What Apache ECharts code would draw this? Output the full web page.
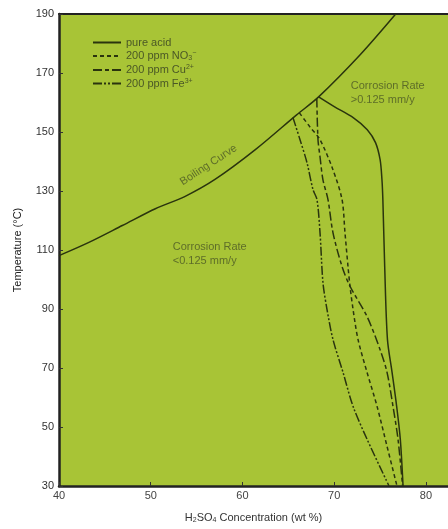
<!DOCTYPE html>
<html>
<head>
<meta charset="utf-8">
<script src="https://cdn.jsdelivr.net/npm/echarts@6/dist/echarts.min.js"></script>
<style>
html,body{margin:0;padding:0;background:#fff;}
#chart{width:448px;height:529px;}
</style>
</head>
<body>
<div id="chart"></div>
<script>
// ---- data (x: H2SO4 wt %, y: temperature °C) ----
const xTicks = [40, 50, 60, 70, 80];
const yTicks = [30, 50, 70, 90, 110, 130, 150, 170, 190];

const boilingCurve = [[40,108.1],[43.2,112.5],[46.9,118.3],[50.5,124.0],[53.7,128.1],[57.0,133.9],[61.4,144.0],[65.9,155.8],[68.3,161.9],[72.8,176.1],[76.7,190]];

const pureAcid = [[68.3,161.9],[70.0,158.6],[72.1,154.8],[73.6,150.8],[74.5,146.4],[75.0,140.6],[75.2,133.9],[75.3,127.1],[75.5,104.4],[75.8,79.7],[76.3,68.6],[76.8,57.1],[77.2,45.9],[77.5,30]];

const nitrate = [[66.2,156.5],[67.36,151.7],[68.45,147.4],[69.86,137.2],[70.85,127.1],[71.17,115.9],[71.5,104.4],[71.72,97.7],[72.05,89.9],[72.59,79.7],[73.57,68.6],[74.66,57.1],[75.75,43.5],[76.84,30]];

const copper = [[68.1,161.3],[68.23,147.4],[68.45,141.6],[68.77,133.8],[69.32,127.1],[69.86,115.9],[70.85,104.4],[71.72,97.7],[73.57,87.5],[74.99,76.3],[75.75,68.6],[76.4,57.1],[76.95,45.9],[77.45,30]];

const ferric = [[65.5,154.9],[66.27,147.4],[67.03,139.6],[67.68,130.5],[68.12,127.1],[68.45,115.9],[68.77,99.0],[69.21,89.9],[69.86,79.7],[70.95,68.6],[72.04,57.1],[73.57,45.9],[75.97,30]];

const seriesNames = ['pure acid', '200 ppm NO3-', '200 ppm Cu2+', '200 ppm Fe3+'];
const legendLabels = ['pure acid', '200 ppm NO{sub|3}{sup|−}', '200 ppm Cu{sup|2+}', '200 ppm Fe{sup|3+}'];

const annotations = [
  {value: [56.3, 138.8], text: 'Boiling Curve', rotate: 33},
  {value: [71.8, 163.3], text: 'Corrosion Rate\n>0.125 mm/y', rotate: 0},
  {value: [52.4, 108.8], text: 'Corrosion Rate\n<0.125 mm/y', rotate: 0}
];

const lineColor = '#2a340e';
const textColor = '#4b5826';
const FONT = 'Liberation Sans, Arial, Helvetica, sans-serif';

const chart = echarts.init(document.getElementById('chart'), null, {renderer: 'canvas'});

function curve(name, data, type, z) {
  return {
    name: name, type: 'line', data: data, symbol: 'none', smooth: 0.3,
    lineStyle: {color: lineColor, width: 1.5, type: type}, itemStyle: {color: lineColor},
    z: z || 3, silent: true, animation: false
  };
}

const option = {
  animation: false,
  grid: {left: 59, top: 14, right: 0, bottom: 42, show: true, backgroundColor: '#a8c436', borderWidth: 0},
  legend: {
    data: seriesNames, orient: 'vertical', left: 92, top: 37, padding: 0,
    itemWidth: 28, itemHeight: 10, itemGap: 2,
    itemStyle: {opacity: 0},
    textStyle: {fontFamily: FONT, fontSize: 11, color: textColor,
      rich: {sub: {fontSize: 7, padding: [5, 0, 0, 0], color: textColor, fontFamily: FONT},
             sup: {fontSize: 7, padding: [0, 0, 5, 0], color: textColor, fontFamily: FONT}}},
    formatter: function (n) { return legendLabels[seriesNames.indexOf(n)]; },
    selectedMode: false
  },
  xAxis: [{
    type: 'value', min: 40, max: 82.4, interval: 10,
    name: 'H{s|2}SO{s|4} Concentration (wt %)', nameLocation: 'middle', nameGap: 26,
    nameTextStyle: {fontFamily: FONT, fontSize: 11, color: '#333',
      rich: {s: {fontSize: 7, padding: [5, 0, 0, 0], fontFamily: FONT, color: '#333'}}},
    axisLine: {show: true, lineStyle: {color: '#222', width: 2.5}},
    axisTick: {show: true, inside: true, length: 4, lineStyle: {color: '#333', width: 1}},
    axisLabel: {fontFamily: FONT, fontSize: 11, color: '#444', margin: 4, showMaxLabel: false,
      formatter: function (v) { return xTicks.indexOf(v) >= 0 ? String(v) : ''; }},
    splitLine: {show: false}
  }, {
    type: 'value', min: 40, max: 82.4, position: 'top',
    axisLine: {show: true, lineStyle: {color: '#222', width: 2}},
    axisTick: {show: false}, axisLabel: {show: false}, splitLine: {show: false}
  }],
  yAxis: {
    type: 'value', min: 30, max: 190, interval: 20,
    name: 'Temperature (°C)', nameLocation: 'middle', nameGap: 36,
    nameTextStyle: {fontFamily: FONT, fontSize: 11, color: '#222'},
    axisLine: {show: true, lineStyle: {color: '#222', width: 2.5}},
    axisTick: {show: true, inside: true, length: 4, lineStyle: {color: '#333', width: 1}},
    axisLabel: {fontFamily: FONT, fontSize: 11, color: '#333', margin: 5,
      formatter: function (v) { return yTicks.indexOf(v) >= 0 ? String(v) : ''; }},
    splitLine: {show: false}
  },
  series: [
    curve('Boiling Curve', boilingCurve, 'solid', 4),
    curve(seriesNames[0], pureAcid, 'solid'),
    curve(seriesNames[1], nitrate, [4, 3]),
    curve(seriesNames[2], copper, [9, 3, 4, 3]),
    curve(seriesNames[3], ferric, [9, 2, 2, 2, 2, 2]),
    {
      type: 'scatter', symbolSize: 0, silent: true, z: 5,
      data: annotations.map(function (a) {
        return {value: a.value, label: {formatter: a.text, rotate: a.rotate,
          position: a.rotate ? 'inside' : 'right', distance: 0, align: a.rotate ? 'center' : 'left'}};
      }),
      label: {show: true, fontFamily: FONT, fontSize: 11, lineHeight: 14, color: textColor}
    }
  ]
};
chart.setOption(option);
</script>
</body>
</html>
